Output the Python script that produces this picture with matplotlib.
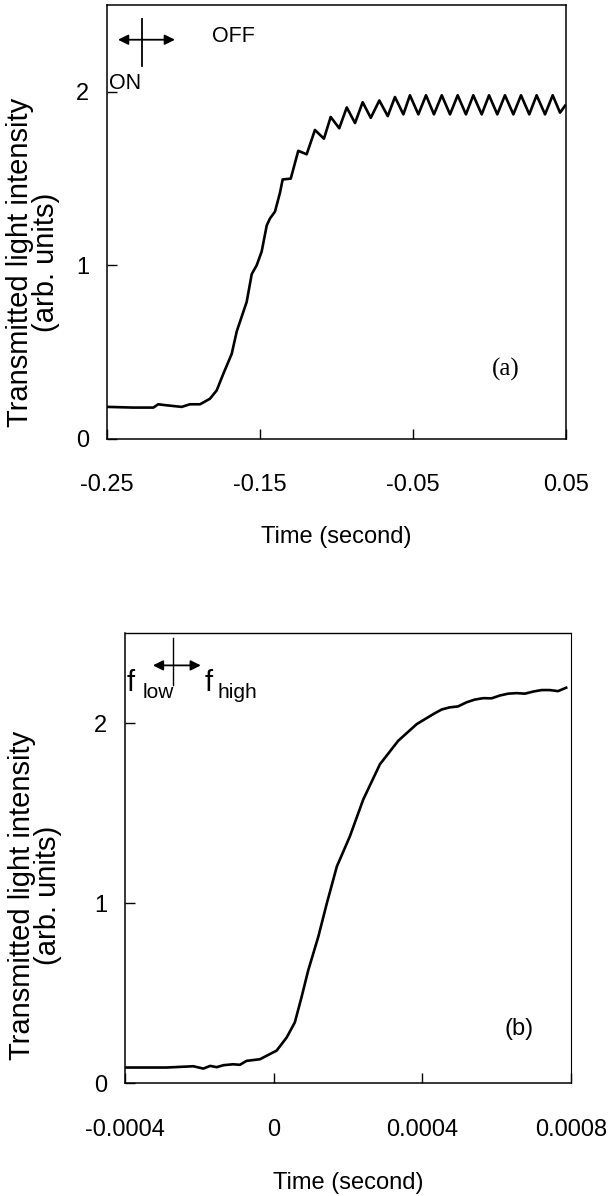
import matplotlib
matplotlib.use("Agg")
import matplotlib.pyplot as plt

plt.rcParams['font.family'] = ['Liberation Sans', 'DejaVu Sans']

# panel (a): ON/OFF switching, time in seconds
t_a = [-0.2498, -0.2328, -0.2197, -0.2165, -0.2110, -0.2012, -0.1958, -0.1892,
       -0.1827, -0.1783, -0.1740, -0.1685, -0.1652, -0.1587, -0.1554, -0.1522,
       -0.1489, -0.1456, -0.1435, -0.1402, -0.1369, -0.1352, -0.1299, -0.1250,
       -0.1195, -0.1141, -0.1082, -0.1038, -0.0982, -0.0933, -0.0879, -0.0829,
       -0.0776, -0.0720, -0.0665, -0.0618, -0.0563, -0.0520, -0.0465, -0.0415,
       -0.0363, -0.0312, -0.0258, -0.0208, -0.0154, -0.0106, -0.0051, -0.0003,
       0.0051, 0.0101, 0.0156, 0.0206, 0.0260, 0.0308, 0.0363, 0.0413,
       0.0461, 0.0494]
I_a = [0.185, 0.181, 0.181, 0.200, 0.194, 0.185, 0.200, 0.200,
       0.232, 0.280, 0.375, 0.490, 0.620, 0.790, 0.950, 1.000,
       1.080, 1.230, 1.270, 1.310, 1.420, 1.495, 1.500, 1.660,
       1.640, 1.780, 1.730, 1.855, 1.790, 1.910, 1.820, 1.940,
       1.850, 1.950, 1.860, 1.970, 1.870, 1.980, 1.870, 1.980,
       1.870, 1.980, 1.870, 1.980, 1.870, 1.980, 1.870, 1.980,
       1.870, 1.980, 1.870, 1.980, 1.870, 1.980, 1.870, 1.980,
       1.880, 1.920]

# panel (b): f_low -> f_high switching
t_b = [-0.000396, -0.000288, -0.000216, -0.000189, -0.000171, -0.000153,
       -0.000135, -0.000109, -0.000091, -0.000073, -0.000037, 0.000008,
       0.000035, 0.000057, 0.000075, 0.000093, 0.000120, 0.000143,
       0.000170, 0.000205, 0.000241, 0.000286, 0.000335, 0.000385,
       0.000430, 0.000452, 0.000474, 0.000496, 0.000519, 0.000541,
       0.000564, 0.000586, 0.000609, 0.000631, 0.000654, 0.000676,
       0.000699, 0.000721, 0.000743, 0.000765, 0.000787]
I_b = [0.086, 0.086, 0.093, 0.080, 0.095, 0.088,
       0.099, 0.104, 0.101, 0.123, 0.132, 0.180,
       0.253, 0.337, 0.477, 0.626, 0.812, 0.998,
       1.203, 1.370, 1.575, 1.771, 1.901, 1.994,
       2.050, 2.075, 2.087, 2.092, 2.115, 2.130,
       2.138, 2.137, 2.153, 2.163, 2.166, 2.163,
       2.175, 2.183, 2.183, 2.177, 2.196]

xticks_a = [-0.25, -0.15, -0.05, 0.05]
xticklabels_a = ['-0.25', '-0.15', '-0.05', '0.05']
xticks_b = [-0.0004, 0, 0.0004, 0.0008]
xticklabels_b = ['-0.0004', '0', '0.0004', '0.0008']
yticks = [0, 1, 2]

ylab = 'Transmitted light intensity\n(arb. units)'

fig = plt.figure(figsize=(6.12, 11.96), dpi=100)
W, H = 612, 1196

def style(ax, tick_fs, xpad, ypad):
    ax.tick_params(direction='in', length=7, width=1.0, labelsize=tick_fs,
                   top=False, right=False)
    ax.tick_params(axis='x', pad=xpad)
    ax.tick_params(axis='y', pad=ypad)
    for s in ax.spines.values():
        s.set_linewidth(1.1)

# ---- (a)
ax1 = fig.add_axes([107/W, 1-439/H, (566-107)/W, (439-5)/H])
ax1.plot(t_a, I_a, color='black', lw=1.9, solid_joinstyle='round')
ax1.set_xlim(-0.25, 0.05)
ax1.set_ylim(0, 2.5)
ax1.set_xticks(xticks_a)
ax1.set_xticklabels(xticklabels_a)
ax1.set_yticks(yticks)
style(ax1, 17, 25, 13)
ax1.set_xlabel('Time (second)', fontsize=17, labelpad=22)
fig.text(33/W, 1-262/H, ylab, rotation=90, fontsize=21, ha='center', va='center',
         multialignment='center', linespacing=0.95)

ax1.plot([-0.2273, -0.2273], [2.15, 2.42], color='black', lw=1.3)
ax1.annotate('', xy=(-0.2056, 2.30), xytext=(-0.2428, 2.30),
             arrowprops=dict(arrowstyle='<|-|>', color='black', lw=1.3,
                             mutation_scale=15, shrinkA=0, shrinkB=0))
ax1.text(-0.1814, 2.32, 'OFF', fontsize=15.5, va='center', ha='left')
ax1.text(-0.2485, 2.05, 'ON', fontsize=15.5, va='center', ha='left')
ax1.text(0.0106, 0.40, '(a)', fontsize=18, family='Liberation Serif',
         ha='center', va='center')

# ---- (b)
ax2 = fig.add_axes([125/W, 1-1083/H, (571-125)/W, (1083-633)/H])
ax2.plot(t_b, I_b, color='black', lw=1.9, solid_joinstyle='round')
ax2.set_xlim(-0.0004, 0.0008)
ax2.set_ylim(0, 2.5)
ax2.set_xticks(xticks_b)
ax2.set_xticklabels(xticklabels_b)
ax2.set_yticks(yticks)
style(ax2, 17, 26, 13)
ax2.spines['top'].set_linestyle((0, (1, 1)))
ax2.spines['top'].set_linewidth(1.0)
ax2.spines['right'].set_linewidth(0.8)
ax2.set_xlabel('Time (second)', fontsize=17, labelpad=22)
fig.text(35/W, 1-895/H, ylab, rotation=90, fontsize=21, ha='center', va='center',
         multialignment='center', linespacing=0.95)

ax2.plot([-0.000272, -0.000272], [2.21, 2.47], color='black', lw=1.0)
ax2.annotate('', xy=(-0.000196, 2.32), xytext=(-0.000325, 2.32),
             arrowprops=dict(arrowstyle='<|-|>', color='black', lw=1.3,
                             mutation_scale=15, shrinkA=0, shrinkB=0))
ax2.text(-0.000395, 2.18, 'f', fontsize=21, va='baseline', ha='left')
ax2.text(-0.000352, 2.14, 'low', fontsize=15, va='baseline', ha='left')
ax2.text(-0.000185, 2.18, 'f', fontsize=21, va='baseline', ha='left')
ax2.text(-0.000150, 2.14, 'high', fontsize=15, va='baseline', ha='left')
ax2.text(0.000659, 0.30, '(b)', fontsize=17, ha='center', va='center')

fig.savefig('out.png', dpi=100)
